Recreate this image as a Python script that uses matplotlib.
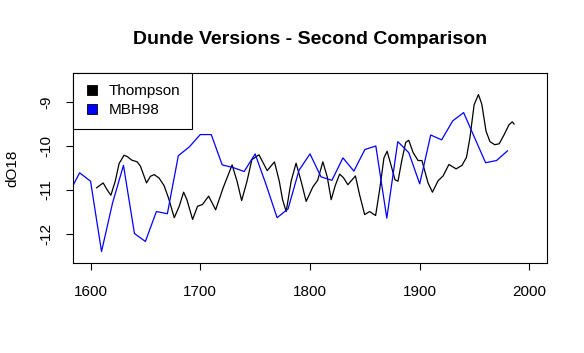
import matplotlib
matplotlib.use("Agg")
import matplotlib.pyplot as plt
from matplotlib.lines import Line2D

plt.rcParams['font.family'] = ['Liberation Sans', 'DejaVu Sans']

# MBH98 series (decadal)
mbh_years = [1580, 1590, 1600, 1610, 1620, 1630, 1640, 1650, 1660, 1670,
             1680, 1690, 1700, 1710, 1720, 1730, 1740, 1750, 1760, 1770,
             1780, 1790, 1800, 1810, 1820, 1830, 1840, 1850, 1860, 1870,
             1880, 1890, 1900, 1910, 1920, 1930, 1940, 1950, 1960, 1970, 1980]
mbh_values = [-11.09, -10.61, -10.80, -12.40, -11.30, -10.44, -11.99, -12.17, -11.49, -11.54,
              -10.22, -10.02, -9.74, -9.74, -10.43, -10.49, -10.58, -10.18, -10.88, -11.63,
              -11.43, -10.55, -10.18, -10.70, -10.78, -10.27, -10.57, -10.08, -10.00, -11.64,
              -9.90, -10.15, -10.86, -9.75, -9.86, -9.43, -9.24, -9.81, -10.38, -10.33, -10.11]

# Thompson series (smoothed)
thompson_years = [1605.5, 1611.5, 1615, 1618.5, 1622.5, 1626, 1630.5, 1633.5, 1637.5, 1642.5,
                  1645.5, 1651, 1654.5, 1658, 1662.5, 1667, 1671, 1676.3, 1680.8, 1684.8,
                  1687.8, 1693, 1697.5, 1702, 1707.6, 1714, 1721, 1729, 1733.5, 1737.7,
                  1742.6, 1747, 1753.5, 1761, 1767.6, 1772, 1775, 1778.3, 1782.8, 1787.3,
                  1791.9, 1796.5, 1802.6, 1807, 1811.7, 1815.7, 1819.3, 1823, 1827, 1830.5,
                  1834.5, 1841.4, 1845.2, 1849.8, 1854.3, 1859.8, 1863.5, 1867.4, 1870.3, 1874,
                  1877.5, 1880.2, 1883.5, 1887.2, 1890, 1894, 1898.5, 1902, 1907.6, 1911.6,
                  1916.7, 1921.3, 1926.6, 1933.2, 1938.5, 1942.6, 1945.7, 1949.6, 1953.5, 1956.6,
                  1960.4, 1964, 1968.3, 1972.4, 1977, 1981.3, 1984.3, 1986]
thompson_values = [-10.95, -10.84, -10.99, -11.12, -10.80, -10.40, -10.21, -10.24, -10.32, -10.36,
                   -10.46, -10.84, -10.69, -10.65, -10.73, -10.90, -11.18, -11.63, -11.37, -11.05,
                   -11.22, -11.67, -11.37, -11.33, -11.14, -11.45, -10.94, -10.43, -10.80, -11.24,
                   -10.80, -10.31, -10.20, -10.56, -10.36, -10.80, -11.22, -11.49, -10.80, -10.39,
                   -10.80, -11.26, -10.93, -10.78, -10.36, -10.70, -11.22, -10.90, -10.64, -10.72,
                   -10.88, -10.68, -11.11, -11.56, -11.49, -11.58, -10.99, -10.27, -10.12, -10.45,
                   -10.77, -10.80, -10.35, -9.92, -9.87, -10.15, -10.33, -10.33, -10.84, -11.05,
                   -10.79, -10.68, -10.42, -10.52, -10.44, -10.26, -9.82, -9.06, -8.83, -9.05,
                   -9.66, -9.90, -9.97, -9.95, -9.74, -9.52, -9.45, -9.50]

x_ticks = [1600, 1700, 1800, 1900, 2000]
y_ticks = [-12, -11, -10, -9]
series_labels = ["Thompson", "MBH98"]
series_colors = ["black", "blue"]

W, H = 584, 353
fig = plt.figure(figsize=(W / 100, H / 100), dpi=100)
ax = fig.add_axes([73 / W, 1 - 263 / H, (547 - 73) / W, (263 - 73) / H])

ax.plot(thompson_years, thompson_values, color=series_colors[0], lw=0.9)
ax.plot(mbh_years, mbh_values, color=series_colors[1], lw=0.9)

ax.set_xlim(1584, 2016)
ax.set_ylim(-12.66, -8.34)
ax.set_xticks(x_ticks)
ax.set_xticklabels([str(t) for t in x_ticks])
ax.set_yticks(y_ticks)
ax.set_yticklabels([str(t) for t in y_ticks], rotation=90, va='center')

ax.tick_params(axis='both', direction='out', length=5.0, width=0.8, labelsize=11, colors='black')
ax.tick_params(axis='x', pad=11)
ax.tick_params(axis='y', pad=9)
for s in ax.spines.values():
    s.set_linewidth(0.8)
    s.set_color('black')

ax.set_title("Dunde Versions - Second Comparison", fontsize=14, fontweight='bold', pad=21)
fig.text(12 / W, 1 - 168 / H, "dO18", rotation=90, ha='center', va='center', fontsize=11)

handles = [Line2D([], [], linestyle='none', marker='s', markersize=7.5,
                  markerfacecolor=c, markeredgecolor='black', markeredgewidth=0.6)
           for c in series_colors]
leg = ax.legend(handles, series_labels, loc='upper left', bbox_to_anchor=(0, 1),
                borderaxespad=0, fancybox=False, framealpha=1, edgecolor='black',
                fontsize=11, handlelength=1.0, handletextpad=0.6, labelspacing=0.3,
                borderpad=0.75)
leg.get_frame().set_linewidth(0.8)

fig.savefig("out.png", dpi=100)
